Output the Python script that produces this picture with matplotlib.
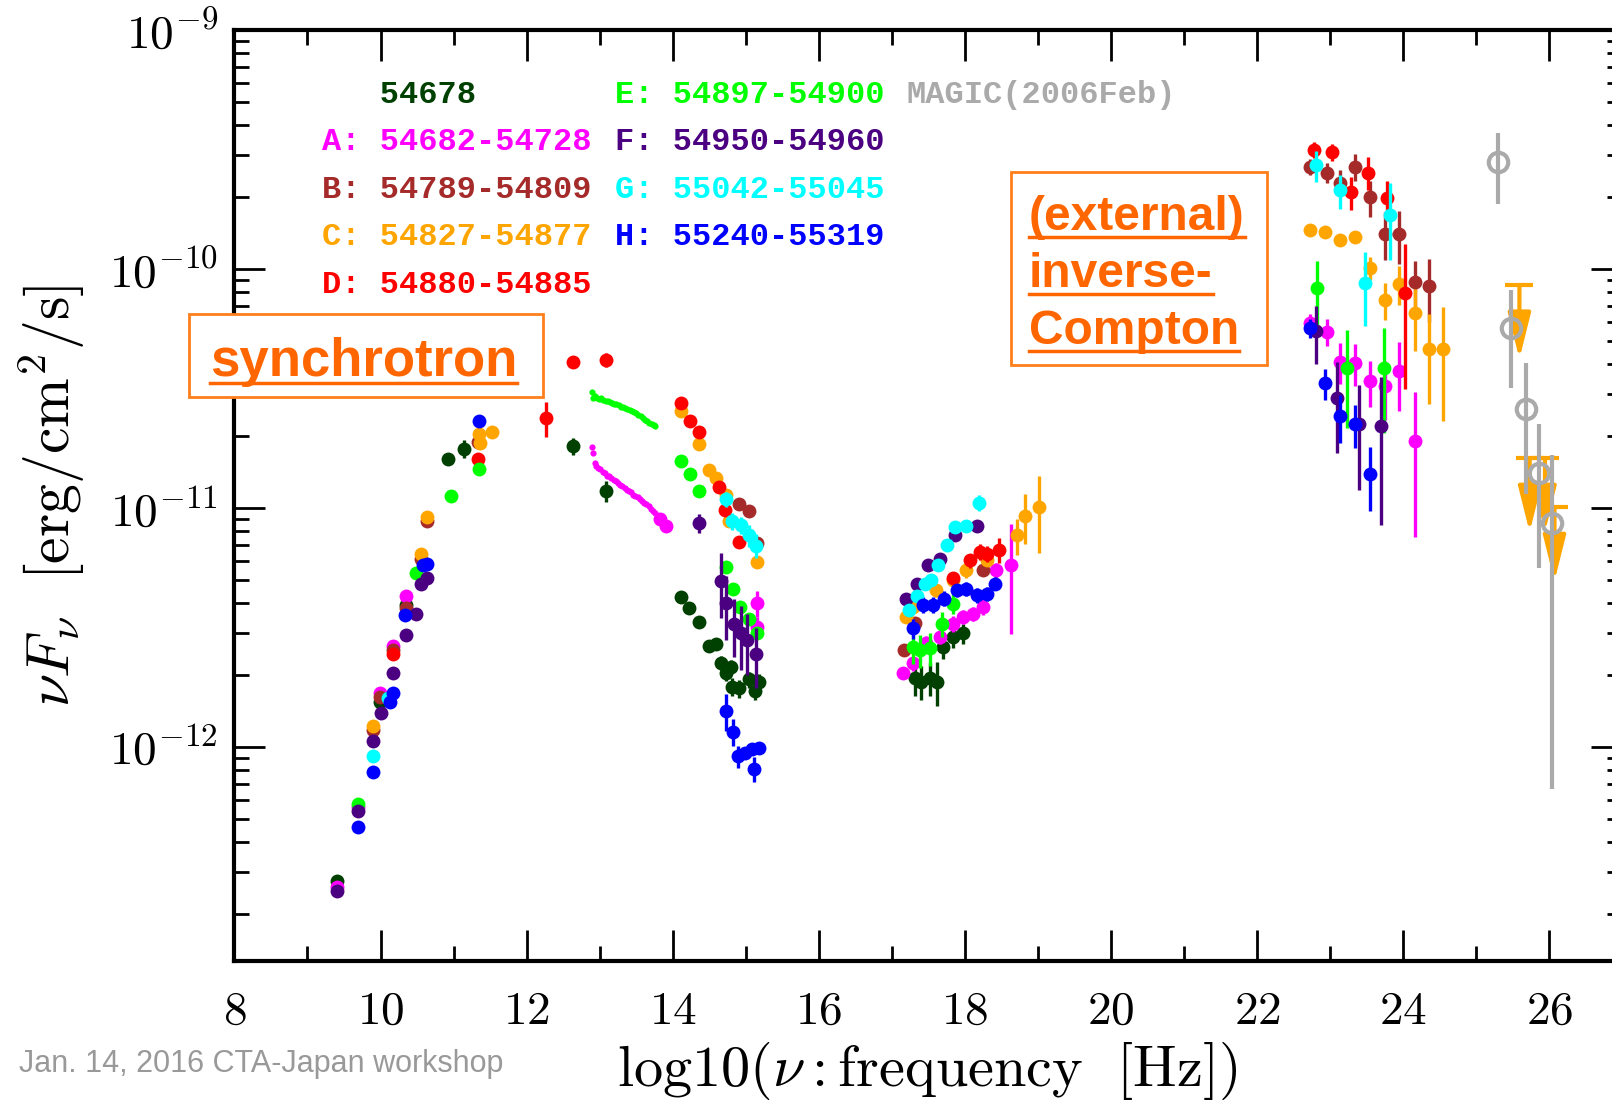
import numpy as np
import matplotlib
matplotlib.use('Agg')
import matplotlib.pyplot as plt
from matplotlib.ticker import MultipleLocator, FuncFormatter, LogLocator, NullFormatter
from matplotlib.lines import Line2D
from matplotlib.patches import Rectangle

plt.rcParams['mathtext.fontset'] = 'cm'
plt.rcParams['font.family'] = 'DejaVu Serif'

# ---- data: log10(nu [Hz]), nuFnu [erg/cm2/s], 1-sigma error ----
# 54678
dg_x = [9.41, 9.99, 10.35, 10.93, 11.14, 12.63, 13.09,
        14.11, 14.22, 14.36, 14.50, 14.59, 14.66, 14.80, 14.73, 14.81, 14.91, 15.04, 15.18, 15.12,
        17.31, 17.40, 17.52, 17.62, 17.70, 17.84, 17.98]
dg_y = [2.75e-13, 1.55e-12, 3.92e-12, 1.60e-11, 1.77e-11, 1.82e-11, 1.18e-11,
        4.25e-12, 3.81e-12, 3.35e-12, 2.64e-12, 2.69e-12, 2.25e-12, 2.17e-12, 2.04e-12, 1.79e-12, 1.76e-12, 1.92e-12, 1.88e-12, 1.72e-12,
        1.94e-12, 1.88e-12, 1.94e-12, 1.88e-12, 2.63e-12, 2.90e-12, 2.99e-12]
dg_e = [0, 0, 0, 0, 1.5e-12, 1.5e-12, 1.2e-12,
        0, 0, 0, 0, 0, 1.5e-13, 1.5e-13, 1.5e-13, 1.5e-13, 1.5e-13, 1.5e-13, 1.5e-13, 1.5e-13,
        3e-13, 3e-13, 3e-13, 4e-13, 3e-13, 3e-13, 3e-13]

# A: 54682-54728
A_x = [9.41, 9.69, 9.99, 10.17, 10.35, 13.83, 13.91, 15.15, 15.16,
       17.15, 17.29, 17.47, 17.66, 17.84, 17.98, 18.11, 18.25, 18.43, 18.63,
       22.72, 22.95, 23.14, 23.34, 23.55, 23.75, 23.94, 24.16]
A_y = [2.6e-13, 5.6e-13, 1.68e-12, 2.65e-12, 4.29e-12, 9.0e-12, 8.41e-12, 4.0e-12, 3.19e-12,
       2.04e-12, 2.24e-12, 2.72e-12, 2.90e-12, 3.29e-12, 3.51e-12, 3.62e-12, 3.86e-12, 5.5e-12, 5.76e-12,
       5.97e-11, 5.47e-11, 4.10e-11, 4.06e-11, 3.40e-11, 3.24e-11, 3.75e-11, 1.91e-11]
A_e = [0, 0, 0, 0, 0, 0, 0, 5e-13, 3e-13,
       1e-13, 1.5e-13, 2e-13, 2e-13, 2.5e-13, 2.5e-13, 2.5e-13, 3e-13, 4e-13, 2.8e-12,
       5e-12, 7e-12, 8e-12, 8e-12, 7.5e-12, 9e-12, 1.2e-11, 1.15e-11]
# A: infrared spectrum
As_x = [12.90, 12.91, 12.93, 12.95, 12.98, 13.01, 13.04, 13.07, 13.10, 13.13, 13.16, 13.19, 13.22,
        13.25, 13.28, 13.31, 13.34, 13.37, 13.40, 13.43, 13.46, 13.49, 13.52, 13.55, 13.58,
        13.61, 13.64, 13.67, 13.70, 13.73, 13.76]
As_y = [1.80e-11, 1.70e-11, 1.55e-11, 1.50e-11, 1.47e-11, 1.46e-11, 1.42e-11, 1.41e-11, 1.37e-11,
        1.36e-11, 1.34e-11, 1.31e-11, 1.30e-11, 1.28e-11, 1.25e-11, 1.24e-11, 1.21e-11, 1.19e-11,
        1.18e-11, 1.17e-11, 1.14e-11, 1.12e-11, 1.11e-11, 1.09e-11, 1.07e-11, 1.05e-11, 1.04e-11,
        1.02e-11, 9.9e-12, 9.7e-12, 9.5e-12]

# B: 54789-54809
B_x = [9.90, 9.99, 10.17, 10.35, 10.56, 10.63, 11.33, 14.91, 15.05, 15.16,
       17.17, 17.31, 18.25,
       22.72, 22.95, 23.14, 23.34, 23.55, 23.75, 23.94, 24.16, 24.35]
B_y = [1.18e-12, 1.62e-12, 2.55e-12, 3.81e-12, 6.1e-12, 8.8e-12, 1.9e-11, 1.04e-11, 9.76e-12, 7.18e-12,
       2.56e-12, 3.3e-12, 5.5e-12,
       2.69e-10, 2.54e-10, 2.30e-10, 2.69e-10, 2.00e-10, 1.41e-10, 1.40e-10, 8.87e-11, 8.54e-11]
B_e = [0, 0, 0, 0, 0, 0, 0, 0, 0, 0,
       0, 0, 0,
       2e-11, 2.5e-11, 3e-11, 3.5e-11, 3.5e-11, 3.2e-11, 3.5e-11, 2e-11, 2.5e-11]

# C: 54827-54877
C_x = [9.90, 10.56, 10.63, 11.35, 11.36, 11.53, 14.11, 14.36, 14.50, 14.59, 14.73, 14.77, 15.15,
       17.20, 17.29, 17.61, 17.84, 18.02, 18.30, 18.71, 18.82, 19.02,
       22.72, 22.93, 23.14, 23.34, 23.55, 23.75, 23.94, 24.16, 24.35, 24.55]
C_y = [1.22e-12, 6.4e-12, 9.2e-12, 2.05e-11, 1.88e-11, 2.09e-11, 2.55e-11, 1.86e-11, 1.45e-11, 1.34e-11,
       1.14e-11, 8.83e-12, 5.94e-12,
       3.51e-12, 3.86e-12, 4.53e-12, 4.99e-12, 5.50e-12, 6.04e-12, 7.69e-12, 9.3e-12, 1.01e-11,
       1.46e-10, 1.43e-10, 1.32e-10, 1.37e-10, 1.01e-10, 7.43e-11, 8.71e-11, 6.53e-11, 4.62e-11, 4.62e-11]
C_e = [0, 0, 0, 0, 0, 0, 0, 0, 0, 0, 0, 0, 0,
       2e-13, 2e-13, 3e-13, 3e-13, 4e-13, 4e-13, 1.3e-12, 2.2e-12, 3.6e-12,
       0, 3e-12, 5e-12, 8e-12, 1.1e-11, 1.3e-11, 1.6e-11, 2e-11, 1.9e-11, 2.3e-11]
# C: TeV upper limits
CU_x = [25.59, 25.73, 25.94, 26.07]
CU_y = [8.6e-11, 1.62e-11, 1.62e-11, 1.01e-11]

# D: 54880-54885
D_x = [10.17, 11.33, 12.26, 12.63, 13.09, 14.11, 14.23, 14.36, 14.64, 14.71, 14.91,
       17.84, 18.07, 18.20, 18.30, 18.46,
       22.78, 23.02, 23.28, 23.52, 23.78, 24.03]
D_y = [2.45e-12, 1.60e-11, 2.38e-11, 4.10e-11, 4.18e-11, 2.76e-11, 2.31e-11, 2.09e-11, 1.23e-11, 9.86e-12, 7.25e-12,
       5.1e-12, 6.04e-12, 6.55e-12, 6.44e-12, 6.7e-12,
       3.16e-10, 3.09e-10, 2.10e-10, 2.54e-10, 1.98e-10, 7.96e-11]
D_e = [0, 0, 4e-12, 2.5e-12, 3e-12, 0, 0, 0, 0, 0, 0,
       3e-13, 4e-13, 5e-13, 5e-13, 8e-13,
       2.5e-11, 2.5e-11, 3.3e-11, 4e-11, 3.5e-11, 4.8e-11]

# E: 54897-54900
E_x = [9.69, 10.49, 10.96, 11.35, 14.11, 14.23, 14.36, 14.73, 14.83, 14.92, 15.04, 15.15,
       17.29, 17.38, 17.52, 17.68, 17.84, 22.82, 23.23, 23.73]
E_y = [5.8e-13, 5.33e-12, 1.12e-11, 1.46e-11, 1.57e-11, 1.39e-11, 1.18e-11, 5.66e-12, 4.60e-12, 3.85e-12,
       3.45e-12, 3.01e-12,
       2.63e-12, 2.55e-12, 2.59e-12, 3.29e-12, 3.99e-12, 8.37e-11, 3.87e-11, 3.87e-11]
E_e = [0, 0, 0, 0, 0, 0, 0, 0, 0, 0, 0, 0,
       4e-13, 4e-13, 4e-13, 4e-13, 4e-13, 2.5e-11, 1.7e-11, 1.8e-11]
# E: infrared spectrum
Es_x = [12.90, 12.91, 12.93, 12.96, 12.99, 13.02, 13.05, 13.08, 13.11, 13.14, 13.17, 13.20, 13.23,
        13.26, 13.29, 13.32, 13.35, 13.38, 13.41, 13.44, 13.47, 13.50, 13.53, 13.56, 13.59,
        13.62, 13.65, 13.68, 13.71, 13.74, 13.76]
Es_y = [3.05e-11, 2.90e-11, 2.95e-11, 2.90e-11, 2.85e-11, 2.90e-11, 2.84e-11, 2.80e-11, 2.82e-11,
        2.78e-11, 2.75e-11, 2.74e-11, 2.72e-11, 2.70e-11, 2.66e-11, 2.65e-11, 2.62e-11, 2.60e-11,
        2.58e-11, 2.56e-11, 2.52e-11, 2.50e-11, 2.46e-11, 2.42e-11, 2.38e-11, 2.35e-11, 2.31e-11,
        2.28e-11, 2.25e-11, 2.22e-11, 2.20e-11]

# F: 54950-54960
F_x = [9.41, 9.69, 9.90, 10.01, 10.17, 10.35, 10.49, 10.56, 10.63,
       14.36, 14.66, 14.73, 14.84, 14.94, 15.02, 15.14,
       17.20, 17.34, 17.50, 17.66, 17.86, 18.16,
       22.80, 23.09, 23.40, 23.69]
F_y = [2.5e-13, 5.4e-13, 1.06e-12, 1.39e-12, 2.04e-12, 2.94e-12, 3.62e-12, 4.83e-12, 5.1e-12,
       8.67e-12, 4.97e-12, 4.00e-12, 3.28e-12, 3.01e-12, 2.80e-12, 2.46e-12,
       4.15e-12, 4.83e-12, 5.76e-12, 6.14e-12, 7.69e-12, 8.45e-12,
       5.52e-11, 2.90e-11, 2.24e-11, 2.20e-11]
F_e = [0, 0, 0, 0, 0, 0, 0, 0, 0,
       8e-13, 1.5e-12, 1.2e-12, 9e-13, 9e-13, 8e-13, 7e-13,
       0, 0, 0, 0, 0, 0,
       1.5e-11, 1.2e-11, 1.05e-11, 1.35e-11]

# G: 55042-55045
G_x = [9.90, 10.10, 14.73, 14.81, 14.94, 15.05, 15.14,
       17.24, 17.34, 17.45, 17.54, 17.63, 17.75, 17.86, 18.02, 18.19,
       22.80, 23.14, 23.48, 23.82]
G_y = [9.15e-13, 1.6e-12, 1.09e-11, 8.83e-12, 8.49e-12, 7.69e-12, 6.96e-12,
       3.76e-12, 4.28e-12, 4.83e-12, 4.99e-12, 5.76e-12, 6.98e-12, 8.32e-12, 8.45e-12, 1.05e-11,
       2.72e-10, 2.14e-10, 8.79e-11, 1.69e-10]
G_e = [0, 0, 8e-13, 7e-13, 7e-13, 8e-13, 8e-13,
       0, 0, 0, 0, 0, 0, 0, 0, 8e-13,
       4e-11, 3.5e-11, 3e-11, 6e-11]

# H: 55240-55319
H_x = [9.69, 9.90, 10.13, 10.17, 10.34, 10.58, 10.63, 11.35,
       14.73, 14.83, 14.90, 14.99, 15.09, 15.18, 15.11,
       17.29, 17.43, 17.56, 17.72, 17.89, 18.02, 18.16, 18.30, 18.41,
       22.73, 22.93, 23.14, 23.34, 23.55]
H_y = [4.61e-13, 7.88e-13, 1.55e-12, 1.69e-12, 3.56e-12, 5.77e-12, 5.83e-12, 2.31e-11,
       1.42e-12, 1.16e-12, 9.15e-13, 9.43e-13, 9.81e-13, 9.91e-13, 8.12e-13,
       3.14e-12, 3.93e-12, 3.93e-12, 4.18e-12, 4.53e-12, 4.60e-12, 4.32e-12, 4.39e-12, 4.83e-12,
       5.68e-11, 3.33e-11, 2.43e-11, 2.24e-11, 1.39e-11]
H_e = [0, 0, 0, 0, 0, 0, 0, 0,
       2.5e-13, 1.5e-13, 1e-13, 5e-14, 5e-14, 5e-14, 1e-13,
       3e-13, 3e-13, 3e-13, 3e-13, 3e-13, 3e-13, 3e-13, 3e-13, 3e-13,
       5e-12, 5e-12, 5.5e-12, 4.5e-12, 4.2e-12]

# MAGIC (2006 Feb)
M_x = [25.30, 25.48, 25.68, 25.86, 26.04]
M_y = [2.80e-10, 5.68e-11, 2.60e-11, 1.41e-11, 8.67e-12]
M_e = [9.3e-11, 2.5e-11, 1.45e-11, 8.5e-12, 8.0e-12]

# legend
labels = ['   54678', 'A: 54682-54728', 'B: 54789-54809', 'C: 54827-54877', 'D: 54880-54885',
          'E: 54897-54900', 'F: 54950-54960', 'G: 55042-55045', 'H: 55240-55319']

c_dg = '#004000'
c_A = '#ff00ff'
c_B = '#a52a2a'
c_C = '#ffa500'
c_D = '#ff0000'
c_E = '#00ff00'
c_F = '#4b0082'
c_G = '#00ffff'
c_H = '#0000ff'
c_M = '#aaaaaa'
c_ann = '#ff6600'

W, H = 1568.0, 1070.0   # reference layout units

fig = plt.figure(figsize=(16.12, 11), dpi=100)
ax = fig.add_axes([228 / W, 1 - 935 / H, 19 * 71.06 / W, (935 - 29.5) / H])
ax.set_yscale('log')
ax.set_xlim(8, 27)
ax.set_ylim(1.27e-13, 1e-9)

series = [(dg_x, dg_y, dg_e, c_dg), (A_x, A_y, A_e, c_A), (B_x, B_y, B_e, c_B),
          (C_x, C_y, C_e, c_C), (D_x, D_y, D_e, c_D), (E_x, E_y, E_e, c_E),
          (F_x, F_y, F_e, c_F), (G_x, G_y, G_e, c_G), (H_x, H_y, H_e, c_H)]

for i, (x, y, e, c) in enumerate(series):
    ax.errorbar(x, y, yerr=e, fmt='o', color=c, ms=10, mew=0,
                elinewidth=2.4, capsize=0, zorder=3 + i * 0.1)
    if c == c_A:
        ax.plot(As_x, As_y, 'o', color=c_A, ms=4.5, mew=0, zorder=3.15)
    if c == c_E:
        ax.plot(Es_x, Es_y, 'o', color=c_E, ms=4.5, mew=0, zorder=3.55)

# upper limits
for x, ul in zip(CU_x, CU_y):
    ax.plot([x], [ul], marker='_', ms=20, mew=3, color=c_C, zorder=4)
    ax.annotate('', xy=(x, ul * 10 ** -0.31), xytext=(x, ul),
                arrowprops=dict(arrowstyle='-|>,head_length=1.4,head_width=0.35',
                                color=c_C, lw=3, mutation_scale=20,
                                shrinkA=0, shrinkB=0), zorder=4)

ax.errorbar(M_x, M_y, yerr=M_e, fmt='o', mfc='none', mec=c_M, color=c_M,
            ms=14, mew=3, elinewidth=3, capsize=0, zorder=5)

# axes style
for s in ax.spines.values():
    s.set_linewidth(3)
ax.xaxis.set_major_locator(MultipleLocator(2))
ax.xaxis.set_minor_locator(MultipleLocator(1))
ax.yaxis.set_major_locator(LogLocator(base=10, numticks=20))
ax.yaxis.set_minor_locator(LogLocator(base=10, subs=np.arange(2, 10), numticks=20))
ax.yaxis.set_minor_formatter(NullFormatter())
ax.xaxis.set_major_formatter(FuncFormatter(lambda v, p: r'$%d$' % round(v)))
ax.yaxis.set_major_formatter(FuncFormatter(lambda v, p: r'$10^{%d}$' % round(np.log10(v))))
ax.tick_params(which='both', direction='in', top=True, right=True, width=2)
ax.tick_params(which='major', length=22, labelsize=34)
ax.tick_params(axis='x', which='major', pad=20)
ax.tick_params(axis='y', which='major', pad=12)
ax.tick_params(which='minor', length=11)

fig.text(902 / W, 1 - 1042 / H, r'$\mathrm{log10(}\nu\mathrm{:frequency\ \ [Hz])}$',
         ha='center', va='center', fontsize=42)
fig.text(50 / W, 1 - 482 / H, r'$\nu F_\nu\ \ \mathrm{[erg/cm^2/s]}$',
         ha='center', va='center', rotation=90, fontsize=43)

# legend text
leg_pos = [(313, 92), (313, 138), (313, 185), (313, 231), (313, 277),
           (598, 92), (598, 138), (598, 185), (598, 231)]
leg_col = [c_dg, c_A, c_B, c_C, c_D, c_E, c_F, c_G, c_H]
for lab, (px, py), c in zip(labels, leg_pos, leg_col):
    fig.text(px / W, 1 - py / H, lab, color=c, fontsize=23, fontweight='bold',
             family='Liberation Mono', va='center', ha='left')
fig.text(882 / W, 1 - 92 / H, 'MAGIC(2006Feb)', color=c_M, fontsize=23, fontweight='bold',
         family='Liberation Mono', va='center', ha='left')

# boxed annotations
fig.add_artist(Rectangle((184 / W, 1 - 386 / H), 344 / W, 81 / H, transform=fig.transFigure,
                         facecolor='white', edgecolor='#ff7f1a', lw=2, zorder=10))
fig.add_artist(Rectangle((983 / W, 1 - 355 / H), 249 / W, 188 / H, transform=fig.transFigure,
                         facecolor='white', edgecolor='#ff7f1a', lw=2, zorder=10))
ann = []
ann.append(fig.text(204 / W, 1 - 366 / H, 'synchrotron', color=c_ann, fontsize=38,
                    fontweight='bold', family='Liberation Sans', va='baseline', zorder=11))
for txt, yb in [('(external)', 224), ('inverse-', 279), ('Compton', 335)]:
    ann.append(fig.text(1001 / W, 1 - yb / H, txt, color=c_ann, fontsize=34.5,
                        fontweight='bold', family='Liberation Sans', va='baseline', zorder=11))

fig.text(18 / W, 1 - 1035 / H, 'Jan. 14, 2016 CTA-Japan workshop', color='#999999',
         fontsize=22, family='Liberation Sans', va='center', ha='left')

fig.canvas.draw()
r = fig.canvas.get_renderer()
fw, fh = fig.bbox.width, fig.bbox.height
for t in ann:
    bb = t.get_window_extent(r)
    yb = t.get_position()[1]
    yl = yb - 6.5 / H
    fig.add_artist(Line2D([bb.x0 / fw, bb.x1 / fw], [yl, yl], transform=fig.transFigure,
                          color=c_ann, lw=2.5, zorder=11))

fig.savefig('out.png', dpi=100)
